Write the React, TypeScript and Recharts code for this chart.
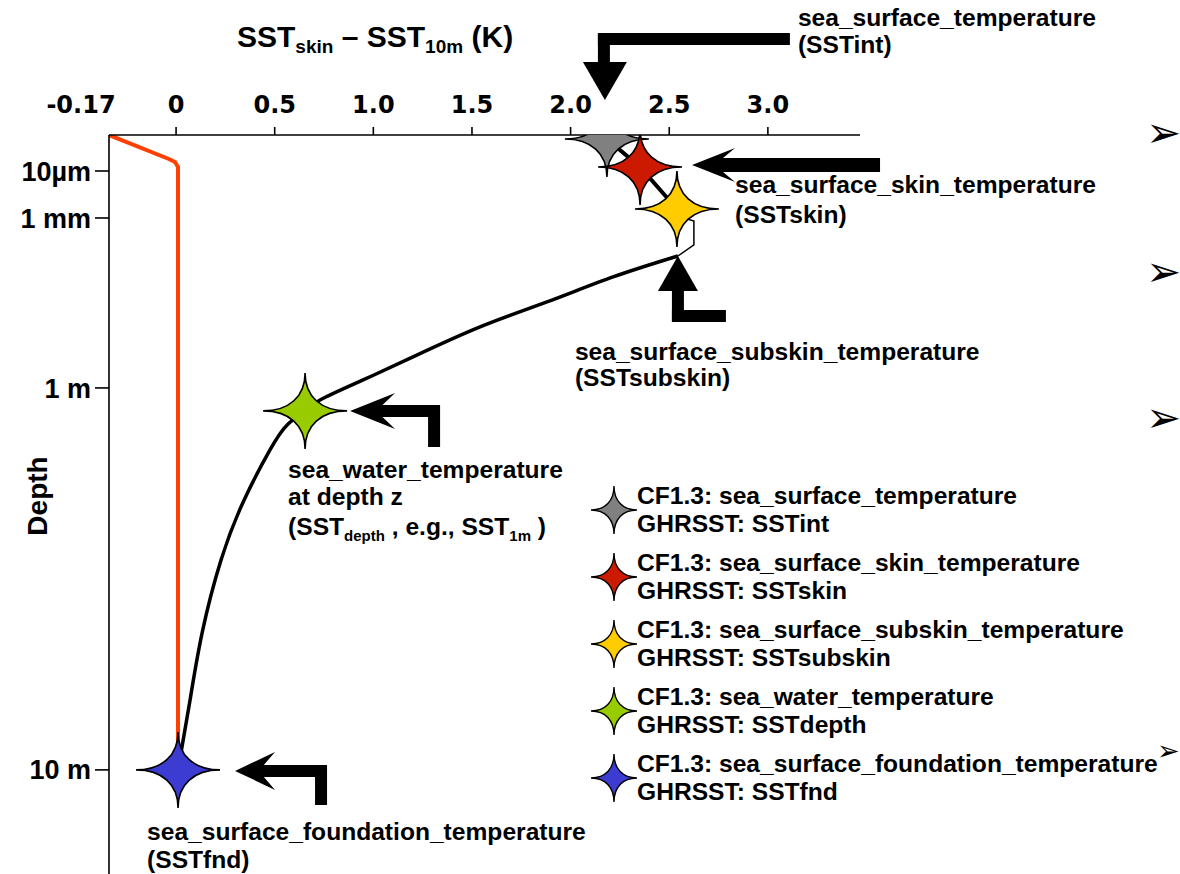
import React from 'react';
import { ComposedChart, Line, Scatter, XAxis, YAxis, ReferenceDot, ReferenceLine, Legend } from 'recharts';

// depth axis is schematic (not to scale): 0 = surface, 100 = 10 m
const depthTicks = [5.67, 13.07, 39.84, 100];
const depthTickLabels = ['10\u00b5m', '1 mm', '1 m', '10 m'];

const dtTicks = [0, 0.5, 1, 1.5, 2, 2.5, 3];
const dtTickLabels = ['0', '0.5', '1.0', '1.5', '2.0', '2.5', '3.0'];

// night-time profile (orange), drawn on its own stretched axis
const nightDt = [-0.17, -0.0225, -0.0075, 0, 0, 0];
const nightDepth = [0, 3.78, 4.25, 5.04, 5.83, 100];

// day-time profile
const skinDt = [2.184, 2.352, 2.539];
const skinDepth = [0.63, 5.04, 11.65];
const subskinDt = [2.575, 2.625, 2.625, 2.544];
const subskinDepth = [13.07, 13.54, 17.32, 19.06];
const profileDt = [2.544, 2.215, 1.88, 1.541, 1.201, 0.948, 0.73, 0.654, 0.563, 0.476, 0.345, 0.228, 0.132, 0.071, 0.03, 0.01];
const profileDepth = [19.06, 22.36, 26.3, 30.24, 34.96, 38.58, 41.73, 43.46, 45.67, 49.61, 57.48, 66.93, 78.43, 88.98, 96.38, 100];

const starKeys = ['int', 'skin', 'subskin', 'depth', 'fnd'];
const starDt = [2.184, 2.352, 2.539, 0.654, 0.01];
const starDepth = [0.63, 5.04, 11.65, 43.46, 100];
const starColors = ['#808080', '#cc1a00', '#ffcc00', '#99cc00', '#3c3cd2'];

const cfNames = [
  'sea_surface_temperature',
  'sea_surface_skin_temperature',
  'sea_surface_subskin_temperature',
  'sea_water_temperature',
  'sea_surface_foundation_temperature',
];
const ghrsstNames = ['SSTint', 'SSTskin', 'SSTsubskin', 'SSTdepth', 'SSTfnd'];

// where each labelled arrow points
const noteDt = [2.184, 2.352, 2.544, 0.654, 0.01];
const noteDepth = [0.63, 5.04, 19.06, 43.46, 100];

const zip = (xs: number[], ys: number[]) => xs.map((x, i) => ({ x, y: ys[i] }));

const nightData = zip(nightDt, nightDepth);
const skinData = zip(skinDt, skinDepth);
const subskinData = zip(subskinDt, subskinDepth);
const profileData = zip(profileDt, profileDepth);
const starData = starKeys.map((k, i) => ({ key: k, x: starDt[i], y: starDepth[i], color: starColors[i] }));

const FONT = "'Liberation Sans', Arial, Helvetica, sans-serif";
const txt = { fontFamily: FONT, fontWeight: 700, fontSize: 24.6, fill: '#000' } as const;

// four-pointed sparkle
function starPath(cx: number, cy: number, w: number, h: number) {
  const a = 0.38;
  const seg = (x0: number, y0: number, x1: number, y1: number) =>
    `C${cx + (x0 - cx) * a},${cy + (y0 - cy) * a} ${cx + (x1 - cx) * a},${cy + (y1 - cy) * a} ${x1},${y1}`;
  return (
    `M${cx},${cy - h} ` +
    seg(cx, cy - h, cx + w, cy) + ' ' +
    seg(cx + w, cy, cx, cy + h) + ' ' +
    seg(cx, cy + h, cx - w, cy) + ' ' +
    seg(cx - w, cy, cx, cy - h) + 'Z'
  );
}

// left-pointing barbed arrow, optional leg going down at the tail
function barbedLeft(tx: number, ty: number, L: number, B: number, T: number, ex: number, ey?: number) {
  const n = tx + L * 0.72;
  const h = T / 2;
  let d = `M${tx},${ty} L${tx + L},${ty - B} L${n},${ty - h} L${ex},${ty - h}`;
  if (ey != null) d += ` L${ex},${ey} L${ex - T},${ey} L${ex - T},${ty + h}`;
  else d += ` L${ex},${ty + h}`;
  d += ` L${n},${ty + h} L${tx + L},${ty + B} Z`;
  return d;
}

function Note({ cx, cy, idx }: { cx: number; cy: number; idx: number }) {
  const name = cfNames[idx];
  const code = ghrsstNames[idx];
  if (idx === 0) {
    return (
      <g>
        <path d={`M${cx - 2},${cy - 39} L${cx - 24},${cy - 77} L${cx + 20},${cy - 77} Z`} fill="#000" />
        <rect x={cx - 9} y={cy - 106} width={12} height={31} fill="#000" />
        <rect x={cx - 9} y={cy - 106} width={192} height={12} fill="#000" />
        <text x={cx + 191} y={cy - 113} {...txt}>{name}</text>
        <text x={cx + 191} y={cy - 86} {...txt}>({code})</text>
      </g>
    );
  }
  if (idx === 1) {
    return (
      <g>
        <path d={barbedLeft(cx + 52, cy - 2, 43, 17, 14, cx + 240)} fill="#000" />
        <text x={cx + 95} y={cy + 26} {...txt}>{name}</text>
        <text x={cx + 95} y={cy + 56} {...txt}>({code})</text>
      </g>
    );
  }
  if (idx === 2) {
    return (
      <g>
        <path d={`M${cx},${cy} L${cx - 20},${cy + 35} L${cx + 20},${cy + 35} Z`} fill="#000" />
        <rect x={cx - 6} y={cy + 34} width={12} height={32} fill="#000" />
        <rect x={cx - 6} y={cy + 54} width={54} height={12} fill="#000" />
        <text x={cx - 103} y={cy + 104} {...txt}>{name}</text>
        <text x={cx - 103} y={cy + 130} {...txt}>({code})</text>
      </g>
    );
  }
  if (idx === 3) {
    return (
      <g>
        <path d={barbedLeft(cx + 45, cy, 45, 18, 12, cx + 135, cy + 36)} fill="#000" />
        <text x={cx - 17} y={cy + 67} {...txt}>{name}</text>
        <text x={cx - 17} y={cy + 94} {...txt}>at depth z</text>
        <text x={cx - 17} y={cy + 124} {...txt}>
          (SST<tspan fontSize={15} dy={6}>depth</tspan>
          <tspan dy={-6}> , e.g., SST</tspan>
          <tspan fontSize={15} dy={6}>1m</tspan>
          <tspan dy={-6}> )</tspan>
        </text>
      </g>
    );
  }
  return (
    <g>
      <path d={barbedLeft(cx + 57, cy + 1, 40, 19, 12, cx + 149, cy + 35)} fill="#000" />
      <text x={cx - 31} y={cy + 70} {...txt}>{name}</text>
      <text x={cx - 31} y={cy + 98} {...txt}>({code})</text>
    </g>
  );
}

function StarShape(p: any) {
  const color = p.payload?.color ?? p.color;
  return <path d={starPath(p.cx, p.cy, 42, 38)} fill={color} stroke="#000" strokeWidth={1.6} />;
}

function LegendBox() {
  return (
    <svg width={600} height={340}>
      {cfNames.map((n, i) => {
        const top = 26 + i * 67;
        return (
          <g key={n}>
            <path d={starPath(34, top + 14, 23, 24)} fill={starColors[i]} stroke="#000" strokeWidth={1.4} />
            <text x={57} y={top + 8} {...txt}>CF1.3: {n}</text>
            <text x={57} y={top + 36} {...txt}>GHRSST: {ghrsstNames[i]}</text>
          </g>
        );
      })}
    </svg>
  );
}

const bulletRows = [133, 272, 418, 750];

export default function App() {
  return (
    <div style={{ position: 'absolute', left: 0, top: 0, width: 1180, height: 874, overflow: 'hidden', background: '#fff' }}>
      <ComposedChart width={1180} height={874} margin={{ top: 95, right: 320, bottom: 0, left: 49 }}>
        <XAxis
          xAxisId="t"
          type="number"
          dataKey="x"
          orientation="top"
          domain={[-0.34, 3.467]}
          allowDataOverflow
          ticks={dtTicks}
          interval={0}
          tickFormatter={(v: number) => dtTickLabels[dtTicks.indexOf(v)] ?? String(v)}
          height={40}
          tickSize={8}
          tickMargin={14}
          axisLine={{ stroke: '#000', strokeWidth: 1.6 }}
          tickLine={{ stroke: '#000', strokeWidth: 1.6 }}
          tick={{ fill: '#000', fontSize: 24, fontFamily: 'DejaVu Sans', fontWeight: 700 }}
          label={{
            content: (p: any) => {
              const vb = p.viewBox ?? { x: 109, y: 95 };
              return (
                <text x={vb.x + 128} y={vb.y - 48} fontFamily={FONT} fontWeight={700} fontSize={30} fill="#000">
                  SST<tspan fontSize={19} dy={6}>skin</tspan>
                  <tspan dy={-6}> {'\u2013'} SST</tspan>
                  <tspan fontSize={19} dy={6}>10m</tspan>
                  <tspan dy={-6}> (K)</tspan>
                </text>
              );
            },
          }}
        />
        <XAxis xAxisId="n" type="number" dataKey="x" domain={[-0.17, 1.68]} allowDataOverflow hide />
        <YAxis
          yAxisId="d"
          type="number"
          dataKey="y"
          domain={[0, 116.4]}
          reversed
          allowDataOverflow
          ticks={depthTicks}
          interval={0}
          tickFormatter={(v: number) => depthTickLabels[depthTicks.indexOf(v)] ?? ''}
          width={60}
          tickSize={14}
          tickMargin={4}
          axisLine={{ stroke: '#000', strokeWidth: 1.6 }}
          tickLine={{ stroke: '#000', strokeWidth: 1.6 }}
          tick={{ fill: '#000', fontSize: 27, fontFamily: FONT, fontWeight: 700 }}
          label={{
            content: () => (
              <text
                x={37}
                y={496}
                transform="rotate(-90, 37, 496)"
                textAnchor="middle"
                dominantBaseline="central"
                fontFamily={FONT}
                fontWeight={700}
                fontSize={28}
                fill="#000"
              >
                Depth
              </text>
            ),
          }}
        />
        <ReferenceLine
          xAxisId="n"
          yAxisId="d"
          x={-0.17}
          stroke="none"
          ifOverflow="visible"
          label={{
            content: (p: any) => {
              const vb = p.viewBox ?? { x: 109, y: 135 };
              return (
                <text x={vb.x - 28} y={vb.y - 22} textAnchor="middle" fontFamily="DejaVu Sans" fontWeight={700} fontSize={24} fill="#000">
                  -0.17
                </text>
              );
            },
          }}
        />
        <Line xAxisId="n" yAxisId="d" data={nightData} dataKey="y" type="linear" stroke="#ff4000" strokeWidth={4} dot={false} isAnimationActive={false} />
        <Line xAxisId="t" yAxisId="d" data={profileData} dataKey="y" type="natural" stroke="#000" strokeWidth={3.5} dot={false} isAnimationActive={false} />
        <Line xAxisId="t" yAxisId="d" data={subskinData} dataKey="y" type="linear" stroke="#000" strokeWidth={1.5} dot={false} isAnimationActive={false} />
        <Line xAxisId="t" yAxisId="d" data={skinData} dataKey="y" type="linear" stroke="#000" strokeWidth={4} dot={false} isAnimationActive={false} />
        <Scatter xAxisId="t" yAxisId="d" data={starData} shape={StarShape} isAnimationActive={false} />
        {noteDt.map((x, i) => (
          <ReferenceDot
            key={starKeys[i]}
            xAxisId="t"
            yAxisId="d"
            x={x}
            y={noteDepth[i]}
            r={0}
            ifOverflow="visible"
            shape={(p: any) => <Note cx={p.cx} cy={p.cy} idx={i} />}
          />
        ))}
        <Legend
          layout="horizontal"
          verticalAlign="middle"
          align="center"
          content={() => <LegendBox />}
          wrapperStyle={{ left: 580, top: 470, width: 600, height: 340 }}
        />
      </ComposedChart>
      <svg width={1180} height={874} style={{ position: 'absolute', left: 0, top: 0, pointerEvents: 'none' }}>
        {bulletRows.map((y, i) => {
          const last = i === bulletRows.length - 1;
          return (
            <text key={y} x={last ? 1157 : 1146} y={y + (last ? 10 : 14)} fontFamily="DejaVu Sans" fontSize={last ? 27 : 42} fill="#000">
              {'\u27a2'}
            </text>
          );
        })}
      </svg>
    </div>
  );
}
